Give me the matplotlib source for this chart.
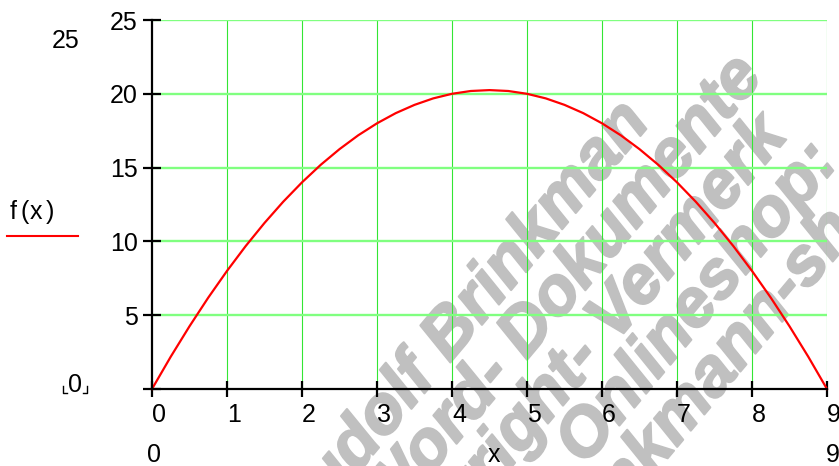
import numpy as np
import matplotlib
matplotlib.use("Agg")
import matplotlib.pyplot as plt
import matplotlib.patheffects as pe
from matplotlib.lines import Line2D
from matplotlib.transforms import offset_copy

# ---- data -------------------------------------------------------------
x_vals = np.linspace(0, 9, 37)
f_vals = [0.0, 2.19, 4.25, 6.19, 8.0, 9.69, 11.25, 12.69, 14.0, 15.19,
          16.25, 17.19, 18.0, 18.69, 19.25, 19.69, 20.0, 20.19, 20.25,
          20.19, 20.0, 19.69, 19.25, 18.69, 18.0, 17.19, 16.25, 15.19,
          14.0, 12.69, 11.25, 9.69, 8.0, 6.19, 4.25, 2.19, 0.0]
x_ticks = [0, 1, 2, 3, 4, 5, 6, 7, 8, 9]
x_tick_labels = ["0", "1", "2", "3", "4", "5", "6", "7", "8", "9"]
y_ticks = [0, 5, 10, 15, 20, 25]
y_tick_labels = ["", "5", "10", "15", "20", "25"]
x_min, x_max = 0, 9
y_min, y_max = 0, 25

# diagonal lettering: text, alignment, position along / across the slant (px)
watermark_lines = [
    ("Rudolf Brinkman", "right", 324, 578),
    ("Word- Dokumente", "right", 432, 635),
    ("Copyright- Vermerk", "right", 402, 692),
    ("Onlineshop:", "left", 18, 748),
    ("brinkmann-shop", "right", 458, 806),
]
WM_ANGLE = 50

# ---- figure -----------------------------------------------------------
W, H = 839, 466
fig = plt.figure(figsize=(W / 100, H / 100), dpi=100)
FONT = "Liberation Sans"
FS = 18


def px(x, y):
    return x / W, 1 - y / H


# background lettering behind the plot
th = np.deg2rad(WM_ANGLE)
d_vec = np.array([np.cos(th), -np.sin(th)])
n_vec = np.array([np.sin(th), np.cos(th)])
for text, ha, a, b in watermark_lines:
    p = a * d_vec + b * n_vec
    fx, fy = px(p[0], p[1])
    fig.text(fx, fy, text, rotation=WM_ANGLE, rotation_mode="anchor",
             ha=ha, va="baseline", fontsize=49, fontweight="bold",
             fontstyle="italic", color="#c0c0c0", family=FONT, zorder=-1,
             path_effects=[pe.withStroke(linewidth=1.5, foreground="#c0c0c0")])

ax = fig.add_axes([152 / W, 77 / H, 675 / W, 369 / H])
ax.patch.set_visible(False)

ax.set_xlim(x_min, x_max)
ax.set_ylim(y_min, y_max)

# grid: vertical thin bright green, horizontal thicker light green
for xv in x_ticks[1:]:
    ax.axvline(xv, color="#33e633", lw=0.8, zorder=1)
for yv in y_ticks[1:]:
    ax.axhline(yv, color="#80ff80", lw=1.7, zorder=1)

ax.plot(x_vals, f_vals, color="red", lw=1.6, zorder=3, clip_on=False)

for side in ("top", "right"):
    ax.spines[side].set_visible(False)
for side in ("left", "bottom"):
    ax.spines[side].set_linewidth(1.6)
    ax.spines[side].set_color("black")
    ax.spines[side].set_zorder(4)

ax.set_xticks(x_ticks, x_tick_labels)
ax.set_yticks(y_ticks, [])
ax.tick_params(axis="both", direction="inout", width=1.6, colors="black",
               labelsize=FS)
ax.tick_params(axis="x", length=12, pad=4)
ax.tick_params(axis="y", length=13)
for lbl in ax.get_xticklabels():
    lbl.set_ha("left")
    lbl.set_family(FONT)

# y tick labels, right-aligned left of the ticks and sitting slightly low
ylab_tr = offset_copy(ax.get_yaxis_transform(), fig=fig, x=-14.5, y=-2.6,
                      units="dots")
for yv, txt in zip(y_ticks, y_tick_labels):
    ax.text(0, yv, txt, transform=ylab_tr, ha="right", va="center",
            fontsize=FS, family=FONT, color="black")


# axis-limit annotations and labels around the plot
def label(x, y, s, ha="center", va="center"):
    fx, fy = px(x, y)
    fig.text(fx, fy, s, ha=ha, va=va, fontsize=FS, family=FONT, color="black")


label(66, 41, "25")
label(75, 385, "0")
label(154, 455, "0")
label(826, 455, "9", ha="left")
label(494, 455, "x")

# function name, letter by letter with Mathcad-like spacing
for ch, xl in (("f", 10), ("(", 21), ("x", 30), (")", 46)):
    label(xl, 212, ch, ha="left")

# legend stroke under f(x)
fig.add_artist(Line2D([7 / W, 78 / W], [1 - 236 / H, 1 - 236 / H],
                      color="red", lw=1.5))

# corner brackets around the lower limit
for xs, ys in (([63, 63, 67], [386, 393, 393]), ([83, 87, 87], [393, 393, 386])):
    fig.add_artist(Line2D([v / W for v in xs], [1 - v / H for v in ys],
                          color="black", lw=1.0))

fig.savefig("out.png", dpi=100)
